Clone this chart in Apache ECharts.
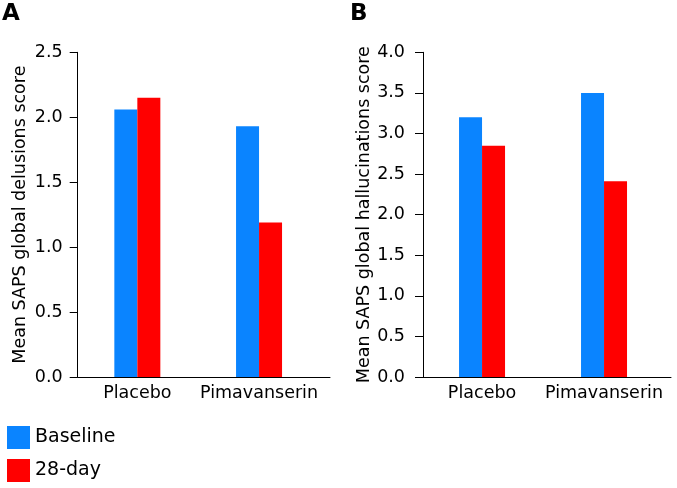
<!DOCTYPE html>
<html>
<head>
<meta charset="utf-8">
<script src="https://cdn.jsdelivr.net/npm/echarts@6/dist/echarts.min.js"></script>
<style>
html,body{margin:0;padding:0;background:#fff;}
#chart{width:677px;height:488px;}
</style>
</head>
<body>
<div id="chart"></div>
<script>
var categories = ['Placebo', 'Pimavanserin'];
var seriesNames = ['Baseline', '28-day'];
var delusionsBaseline = [2.06, 1.93];
var delusions28 = [2.15, 1.19];
var hallucBaseline = [3.2, 3.5];
var halluc28 = [2.85, 2.41];
var delusionsTicks = [0, 0.5, 1.0, 1.5, 2.0, 2.5];
var hallucTicks = [0, 0.5, 1.0, 1.5, 2.0, 2.5, 3.0, 3.5, 4.0];

var FONT = 'DejaVu Sans';
var BLUE = '#0A84FF';
var RED = '#FF0000';

function pts(vals) { return vals.map(function (v, i) { return [i, v]; }); }

function xAxisCfg(idx, min, max) {
  return {
    type: 'value', gridIndex: idx, min: min, max: max,
    axisLine: { show: true, onZero: false, lineStyle: { color: '#000', width: 1 } },
    axisTick: { show: false },
    splitLine: { show: false },
    axisLabel: {
      show: true, customValues: categories.map(function (c, i) { return i; }),
      formatter: function (v) { return categories[Math.round(v)]; },
      color: '#000', fontFamily: FONT, fontSize: 17.5, margin: 7
    }
  };
}
function yAxisCfg(idx, ticks, name, margin, gap) {
  return {
    type: 'value', gridIndex: idx, min: ticks[0], max: ticks[ticks.length - 1], interval: 0.5,
    name: name, nameLocation: 'middle', nameGap: gap,
    nameTextStyle: { color: '#000', fontFamily: FONT, fontSize: 17.5 },
    axisLine: { show: true, onZero: false, lineStyle: { color: '#000', width: 1 } },
    axisTick: { show: true, length: 8, lineStyle: { color: '#000', width: 1 } },
    splitLine: { show: false },
    axisLabel: {
      color: '#000', fontFamily: FONT, fontSize: 17.5, margin: margin,
      formatter: function (v) { return v.toFixed(1); }
    }
  };
}
function barSeries(name, vals, idx, color) {
  return {
    type: 'bar', name: name, xAxisIndex: idx, yAxisIndex: idx,
    data: pts(vals), barWidth: 23, barGap: '0%',
    itemStyle: { color: color }, silent: true
  };
}

var chart = echarts.init(document.getElementById('chart'), null, { renderer: 'canvas' });
chart.setOption({
  animation: false,
  backgroundColor: '#fff',
  title: [
    { text: 'A', left: 2, top: 3, padding: 0, textStyle: { fontFamily: FONT, fontWeight: 'bold', fontSize: 23, color: '#000' } },
    { text: 'B', left: 350, top: 3, padding: 0, textStyle: { fontFamily: FONT, fontWeight: 'bold', fontSize: 23, color: '#000' } }
  ],
  legend: {
    orient: 'vertical', left: 7, top: 426, padding: 0,
    itemWidth: 23, itemHeight: 23, itemGap: 10,
    icon: 'rect',
    data: seriesNames,
    textStyle: { fontFamily: FONT, fontSize: 19, color: '#000' },
    selectedMode: false
  },
  grid: [
    { left: 77.7, right: 347, top: 52.3, bottom: 111, containLabel: false },
    { left: 423, right: 6, top: 52.3, bottom: 111, containLabel: false }
  ],
  xAxis: [xAxisCfg(0, -0.49, 1.583), xAxisCfg(1, -0.484, 1.549)],
  yAxis: [
    yAxisCfg(0, delusionsTicks, 'Mean SAPS global delusions score', 15, 48),
    yAxisCfg(1, hallucTicks, 'Mean SAPS global hallucinations score', 18, 50)
  ],
  series: [
    barSeries(seriesNames[0], delusionsBaseline, 0, BLUE),
    barSeries(seriesNames[1], delusions28, 0, RED),
    barSeries(seriesNames[0], hallucBaseline, 1, BLUE),
    barSeries(seriesNames[1], halluc28, 1, RED)
  ]
});
</script>
</body>
</html>
